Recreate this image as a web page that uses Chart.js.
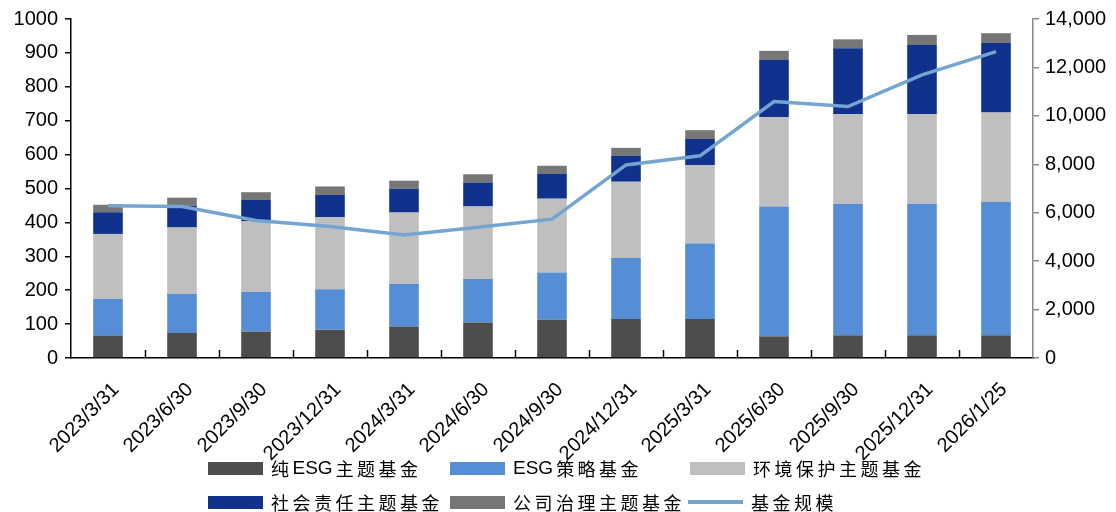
<!DOCTYPE html>
<html>
<head>
<meta charset="utf-8">
<script src="https://cdn.jsdelivr.net/npm/chart.js@4"></script>
<style>
  body { margin: 0; background: #fff; }
  #wrap { position: relative; width: 1116px; height: 512px; }
  #legend { position: absolute; left: 0; top: 0; width: 1116px; height: 512px; pointer-events: none;
    font-family: "Noto Sans CJK SC", "Liberation Sans", sans-serif; font-size: 18px; color: #000; }
  .item { position: absolute; display: flex; align-items: center; height: 24px; letter-spacing: 3.5px; white-space: nowrap; }
  .latin { letter-spacing: 0; font-family: "Liberation Sans", sans-serif; font-size: 19px; margin-right: 3px; }
  .swatch { width: 55px; height: 13px; margin-right: 8px; }
  .swatch.line { height: 4px; }
</style>
</head>
<body>
<div id="wrap">
  <canvas id="chart" width="1116" height="512"></canvas>
  <div id="legend"></div>
</div>
<script>
const labels = ["2023/3/31", "2023/6/30", "2023/9/30", "2023/12/31", "2024/3/31", "2024/6/30", "2024/9/30",
    "2024/12/31", "2025/3/31", "2025/6/30", "2025/9/30", "2025/12/31", "2026/1/25"]

// fund counts (left axis)
const pureEsg = [66, 74, 78, 83, 93, 105, 113, 115, 115, 64, 67, 67, 67]
const esgStrategy = [109, 115, 117, 120, 125, 128, 139, 180, 223, 383, 387, 388, 393]
const environment = [191, 196, 208, 212, 211, 214, 218, 225, 231, 264, 265, 265, 264]
const social = [64, 64, 63, 66, 70, 71, 73, 76, 77, 168, 195, 203, 205]
const governance = [22, 24, 23, 25, 24, 24, 24, 24, 26, 27, 26, 30, 29]

// fund size (right axis)
const fundSize = [6290, 6260, 5680, 5430, 5075, 5400, 5735, 7975, 8350, 10590, 10385, 11690, 12650]

const leftTicks = [0, 100, 200, 300, 400, 500, 600, 700, 800, 900, 1000]
const rightTicks = [0, 2000, 4000, 6000, 8000, 10000, 12000, 14000]

const innerTicks = {
    id: "innerTicks",
    afterDatasetsDraw(chart) {
        const x = chart.scales.x
        const ctx = chart.ctx
        const bottom = chart.chartArea.bottom
        ctx.save()
        ctx.strokeStyle = "#000"
        ctx.lineWidth = 1.5
        for (let i = 1; i < labels.length; i++) {
            const px = Math.round(x.getPixelForValue(i - 0.5)) + 0.5
            ctx.beginPath()
            ctx.moveTo(px, bottom)
            ctx.lineTo(px, bottom - 8)
            ctx.stroke()
        }
        ctx.restore()
    }
}

const bar = (label, data, color) => ({
    type: "bar",
    label: label,
    data: data,
    backgroundColor: color,
    yAxisID: "y",
    stack: "funds",
    order: 1,
    barPercentage: 0.5,
    categoryPercentage: 0.8
})

const chart = new Chart(document.getElementById("chart"), {
    data: {
        labels: labels,
        datasets: [
            bar("纯ESG主题基金", pureEsg, "#4d4d4d"),
            bar("ESG策略基金", esgStrategy, "#558ed5"),
            bar("环境保护主题基金", environment, "#bfbfbf"),
            bar("社会责任主题基金", social, "#10328c"),
            bar("公司治理主题基金", governance, "#767676"),
            {
                type: "line",
                label: "基金规模",
                data: fundSize,
                borderColor: "#74a4d0",
                backgroundColor: "#74a4d0",
                borderWidth: 3.5,
                pointRadius: 0,
                tension: 0,
                yAxisID: "y1",
                order: 0
            }
        ]
    },
    options: {
        responsive: false,
        animation: false,
        layout: { padding: { top: 19, left: 0, right: 0, bottom: 0 } },
        plugins: {
            legend: { display: false },
            tooltip: { enabled: false }
        },
        scales: {
            x: {
                stacked: true,
                grid: { display: false, drawTicks: false },
                border: { display: true, color: "#000", width: 1.5 },
                ticks: {
                    color: "#000",
                    font: { family: "Liberation Sans", size: 20 },
                    minRotation: 45,
                    maxRotation: 45,
                    autoSkip: false,
                    padding: 20,
                    labelOffset: 8
                },
                afterFit: s => { s.height = 154 }
            },
            y: {
                position: "left",
                stacked: true,
                min: 0,
                max: 1000,
                afterBuildTicks: s => { s.ticks = leftTicks.map(v => ({ value: v })) },
                grid: { drawOnChartArea: false, color: "#000", tickLength: 6, lineWidth: 1.5 },
                border: { display: true, color: "#000", width: 1.5 },
                ticks: { color: "#000", font: { family: "Liberation Sans", size: 20 }, padding: 7, callback: v => String(v) },
                afterFit: s => { s.width = 71 }
            },
            y1: {
                position: "right",
                min: 0,
                max: 14000,
                afterBuildTicks: s => { s.ticks = rightTicks.map(v => ({ value: v })) },
                grid: { drawOnChartArea: false, color: "#888", tickLength: 6, lineWidth: 1.5 },
                border: { display: true, color: "#888", width: 1.5 },
                ticks: {
                    color: "#000",
                    font: { family: "Liberation Sans", size: 20 },
                    padding: 6,
                    callback: v => v.toLocaleString("en-US")
                },
                afterFit: s => { s.width = 83 }
            }
        }
    },
    plugins: [innerTicks]
})

// legend laid out in a 3-column grid like the reference
const legendSlots = [[208, 456], [450, 456], [690, 456], [208, 490], [450, 490], [688, 490]]
const legend = document.getElementById("legend")
chart.data.datasets.forEach((ds, i) => {
    const item = document.createElement("div")
    item.className = "item"
    item.style.left = legendSlots[i][0] + "px"
    item.style.top = legendSlots[i][1] + "px"
    const sw = document.createElement("span")
    sw.className = ds.type === "line" ? "swatch line" : "swatch"
    sw.style.background = ds.type === "line" ? ds.borderColor : ds.backgroundColor
    item.appendChild(sw)
    // keep "ESG" tight, Chinese characters spaced out
    ds.label.split(/(ESG)/).filter(s => s).forEach(part => {
        const tx = document.createElement("span")
        if (part === "ESG") tx.className = "latin"
        tx.textContent = part
        item.appendChild(tx)
    })
    legend.appendChild(item)
})
</script>
</body>
</html>
